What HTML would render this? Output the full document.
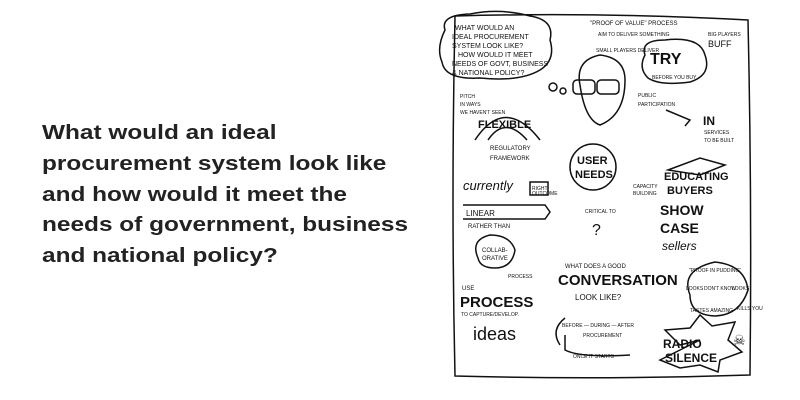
<!DOCTYPE html>
<html><head><meta charset="utf-8"><style>
html,body{margin:0;padding:0;background:#fff;width:800px;height:400px;overflow:hidden}
.t{position:absolute;left:42px;top:118px;font-family:"Liberation Sans",sans-serif;font-weight:bold;font-size:20.5px;line-height:30.8px;color:#222;transform:scaleX(1.19);transform-origin:0 0;white-space:nowrap}
svg{position:absolute;left:0;top:0}
svg text{font-family:"Liberation Sans",sans-serif;fill:#111}
</style></head><body>
<div class="t">What would an ideal<br>procurement system look like<br>and how would it meet the<br>needs of government, business<br>and national policy?</div>
<svg width="800" height="400" viewBox="0 0 800 400">
<g fill="none" stroke="#111" stroke-width="1.5">
<path d="M455 16 Q600 12 748 20 Q752 200 750 375 Q600 380 455 376 Q451 200 455 16Z"/>
<path d="M445 30 Q440 15 470 14 Q500 8 530 16 Q555 20 550 40 Q556 60 540 70 Q520 82 480 78 Q445 80 442 62 Q436 48 445 30Z"/>
<circle cx="553" cy="87" r="4"/><circle cx="563" cy="91" r="3"/>
<path d="M645 55 Q640 40 665 40 Q700 36 705 55 Q712 75 690 82 Q660 86 648 78 Q638 68 645 55Z"/>
<path d="M580 85 Q575 60 600 55 Q625 58 625 80 Q625 115 600 125 Q585 120 580 85Z"/>
<rect x="573" y="80" width="22" height="14" rx="4"/><rect x="597" y="80" width="22" height="14" rx="4"/>
<path d="M475 140 Q505 95 540 140"/><path d="M488 140 Q505 115 527 140"/>
<circle cx="593" cy="167" r="23"/>
<path d="M463 205 L545 205 L550 212 L545 219 L463 219"/>
<path d="M530 182 L548 182 L548 195 L530 195Z"/>
<path d="M478 258 Q470 240 490 235 Q510 235 515 250 Q512 268 495 268 Q480 268 478 258Z"/>
<path d="M668 170 L700 158 L725 165 L700 175Z"/>
<path d="M700 340 L680 345 L665 330 L690 328 L700 315 L712 326 L735 322 L728 340 L742 352 L720 360 L718 372 L700 365 L680 368 L660 360Z"/>
<path d="M690 295 Q680 270 715 262 Q745 265 748 290 Q740 315 715 316 Q690 315 690 295Z"/>
<path d="M565 335 L565 350 Q580 358 630 355"/>
<path d="M565 318 Q550 330 560 345"/>
<path d="M666 110 L690 120 L685 126"/>
</g>
<g font-size="7">
<text x="455" y="30">WHAT WOULD AN</text><text x="452" y="39">IDEAL PROCUREMENT</text>
<text x="452" y="48">SYSTEM LOOK LIKE?</text><text x="458" y="57">HOW WOULD IT MEET</text>
<text x="452" y="66">NEEDS OF GOVT, BUSINESS</text><text x="452" y="75">&amp; NATIONAL POLICY?</text>
<text x="590" y="25" font-size="6">"PROOF OF VALUE" PROCESS</text>
<text x="598" y="36" font-size="5">AIM TO DELIVER SOMETHING</text>
<text x="708" y="36" font-size="5">BIG PLAYERS</text>
<text x="708" y="47" font-size="9">BUFF</text>
<text x="596" y="52" font-size="5">SMALL PLAYERS DELIVER</text>
<text x="650" y="64" font-size="16" font-weight="bold">TRY</text>
<text x="652" y="79" font-size="5">BEFORE YOU BUY</text>
<text x="638" y="97" font-size="5">PUBLIC</text><text x="638" y="106" font-size="5">PARTICIPATION</text>
<text x="703" y="125" font-size="12" font-weight="bold">IN</text>
<text x="704" y="134" font-size="5">SERVICES</text><text x="704" y="142" font-size="5">TO BE BUILT</text>
<text x="460" y="98" font-size="5">PITCH</text><text x="460" y="106" font-size="5">IN WAYS</text><text x="460" y="114" font-size="5">WE HAVEN'T SEEN</text>
<text x="478" y="128" font-size="11" font-weight="bold">FLEXIBLE</text>
<text x="490" y="150" font-size="6">REGULATORY</text><text x="490" y="160" font-size="6">FRAMEWORK</text>
<text x="463" y="190" font-size="13" font-style="italic">currently</text>
<text x="532" y="190" font-size="5">RIGHT</text><text x="532" y="195" font-size="5">OUTCOME</text>
<text x="466" y="216" font-size="8">LINEAR</text>
<text x="468" y="228" font-size="6">RATHER THAN</text>
<text x="482" y="252" font-size="6">COLLAB-</text><text x="482" y="260" font-size="6">ORATIVE</text>
<text x="508" y="278" font-size="5">PROCESS</text>
<text x="462" y="290" font-size="6">USE</text>
<text x="460" y="307" font-size="15" font-weight="bold">PROCESS</text>
<text x="461" y="316" font-size="5">TO CAPTURE/DEVELOP.</text>
<text x="473" y="340" font-size="18">ideas</text>
<text x="577" y="164" font-size="11" font-weight="bold">USER</text>
<text x="575" y="178" font-size="11" font-weight="bold">NEEDS</text>
<text x="585" y="213" font-size="5">CRITICAL TO</text>
<text x="592" y="235" font-size="16">?</text>
<text x="633" y="188" font-size="5">CAPACITY</text><text x="633" y="195" font-size="5">BUILDING</text>
<text x="664" y="180" font-size="11" font-weight="bold">EDUCATING</text>
<text x="667" y="194" font-size="11" font-weight="bold">BUYERS</text>
<text x="660" y="215" font-size="14" font-weight="bold">SHOW</text>
<text x="660" y="233" font-size="14" font-weight="bold">CASE</text>
<text x="662" y="250" font-size="12" font-style="italic">sellers</text>
<text x="565" y="268" font-size="6">WHAT DOES A GOOD</text>
<text x="558" y="285" font-size="15" font-weight="bold">CONVERSATION</text>
<text x="575" y="300" font-size="8">LOOK LIKE?</text>
<text x="562" y="327" font-size="5">BEFORE — DURING — AFTER</text>
<text x="583" y="337" font-size="5">PROCUREMENT</text>
<text x="573" y="358" font-size="5">ONCE IT STARTS</text>
<text x="689" y="272" font-size="5">"PROOF IN PUDDING"</text>
<text x="686" y="290" font-size="5">LOOKS</text><text x="704" y="290" font-size="5">DON'T KNOW</text><text x="732" y="290" font-size="5">LOOKS</text>
<text x="690" y="312" font-size="5">TASTES AMAZING</text><text x="737" y="310" font-size="5">KILLS YOU</text>
<text x="663" y="348" font-size="12" font-weight="bold">RADIO</text>
<text x="665" y="362" font-size="12" font-weight="bold">SILENCE</text>
<text x="733" y="345" font-size="14">☠</text>
</g>
</svg>
</body></html>
